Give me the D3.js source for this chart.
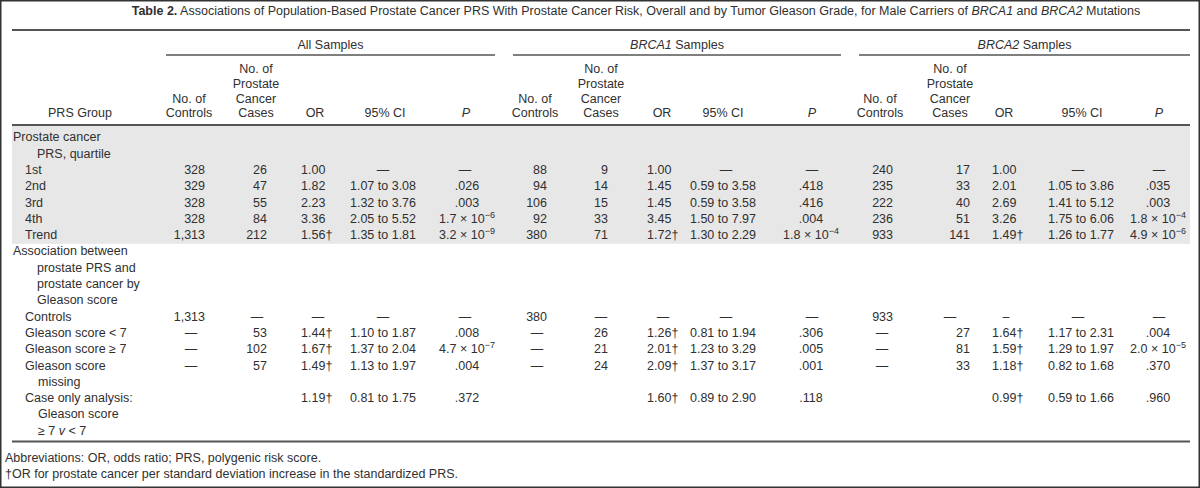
<!DOCTYPE html>
<html><head><meta charset="utf-8">
<script src="https://cdn.jsdelivr.net/npm/d3@7"></script>
<style>
html,body{margin:0;padding:0;background:#fff;}
svg{display:block;}
text{font-family:"Liberation Sans",Arial,Helvetica,sans-serif;fill:#303030;font-size:12.5px;}
</style></head><body>
<svg id="t" width="1200" height="488"></svg>
<script>
// ---------------- DATA ----------------
const stubRows = [
  {label:["Prostate cancer","PRS, quartile"], heading:true},
  {label:["1st"]},{label:["2nd"]},{label:["3rd"]},{label:["4th"]},{label:["Trend"]},
  {label:["Association between","prostate PRS and","prostate cancer by","Gleason score"], heading:true},
  {label:["Controls"]},{label:["Gleason score < 7"]},{label:["Gleason score \u2265 7"]},
  {label:["Gleason score","missing"]},
  {label:["Case only analysis:","Gleason score","\u2265 7 |v| < 7"]}
];
const groupNames = ["All Samples","|BRCA1| Samples","|BRCA2| Samples"];
const colHeaders = [["No. of","Controls"],["No. of","Prostate","Cancer","Cases"],["OR"],["95% CI"],["|P|"]];

const allControls = ["328","329","328","328","1,313","1,313","\u2014","\u2014","\u2014",""];
const allCases    = ["26","47","55","84","212","\u2014","53","102","57",""];
const allOR       = ["1.00","1.82","2.23","3.36","1.56\u2020","\u2014","1.44\u2020","1.67\u2020","1.49\u2020","1.19\u2020"];
const allCI       = ["\u2014","1.07 to 3.08","1.32 to 3.76","2.05 to 5.52","1.35 to 1.81","\u2014","1.10 to 1.87","1.37 to 2.04","1.13 to 1.97","0.81 to 1.75"];
const allP        = ["\u2014",".026",".003","1.7 \u00d7 10^\u22126","3.2 \u00d7 10^\u22129","\u2014",".008","4.7 \u00d7 10^\u22127",".004",".372"];

const brca1Controls = ["88","94","106","92","380","380","\u2014","\u2014","\u2014",""];
const brca1Cases    = ["9","14","15","33","71","\u2014","26","21","24",""];
const brca1OR       = ["1.00","1.45","1.45","3.45","1.72\u2020","\u2014","1.26\u2020","2.01\u2020","2.09\u2020","1.60\u2020"];
const brca1CI       = ["\u2014","0.59 to 3.58","0.59 to 3.58","1.50 to 7.97","1.30 to 2.29","\u2014","0.81 to 1.94","1.23 to 3.29","1.37 to 3.17","0.89 to 2.90"];
const brca1P        = ["\u2014",".418",".416",".004","1.8 \u00d7 10^\u22124","\u2014",".306",".005",".001",".118"];

const brca2Controls = ["240","235","222","236","933","933","\u2014","\u2014","\u2014",""];
const brca2Cases    = ["17","33","40","51","141","\u2014","27","81","33",""];
const brca2OR       = ["1.00","2.01","2.69","3.26","1.49\u2020","\u2013","1.64\u2020","1.59\u2020","1.18\u2020","0.99\u2020"];
const brca2CI       = ["\u2014","1.05 to 3.86","1.41 to 5.12","1.75 to 6.06","1.26 to 1.77","\u2014","1.17 to 2.31","1.29 to 1.97","0.82 to 1.68","0.59 to 1.66"];
const brca2P        = ["\u2014",".035",".003","1.8 \u00d7 10^\u22124","4.9 \u00d7 10^\u22126","\u2014",".004","2.0 \u00d7 10^\u22125",".370",".960"];

const titleText = " Associations of Population-Based Prostate Cancer PRS With Prostate Cancer Risk, Overall and by Tumor Gleason Grade, for Male Carriers of |BRCA1| and |BRCA2| Mutations";
const footnotes = ["Abbreviations: OR, odds ratio; PRS, polygenic risk score.",
                   "\u2020OR for prostate cancer per standard deviation increase in the standardized PRS."];

// ---------------- LAYOUT ----------------
const W = 1200, H = 488;
const svg = d3.select("#t");
const lineCol = "#555";
const groups = [
  {name:groupNames[0], span:[166,495], cols:[allControls,allCases,allOR,allCI,allP],
   hdr:[189,256,315,385,466], anchor:[{k:"right",x:205,d:191},{k:"right",x:267,d:257},{k:"dec",x:308,d:318},{k:"mid",x:383,d:383},{k:"mid",x:467,d:465}]},
  {name:groupNames[1], span:[513,841], cols:[brca1Controls,brca1Cases,brca1OR,brca1CI,brca1P],
   hdr:[535,601,662,723,812], anchor:[{k:"right",x:547,d:537},{k:"right",x:608,d:601},{k:"dec",x:654,d:663},{k:"mid",x:723,d:726},{k:"mid",x:811,d:812}]},
  {name:groupNames[2], span:[859,1190], cols:[brca2Controls,brca2Cases,brca2OR,brca2CI,brca2P],
   hdr:[880,950,1004,1082,1159], anchor:[{k:"right",x:893,d:882},{k:"right",x:970,d:950},{k:"dec",x:999,d:1006},{k:"mid",x:1081,d:1078},{k:"mid",x:1158,d:1159}]}
];

// rich text helper: segments between |...| are italic, ^ introduces a trailing superscript
function rich(sel, str){
  const parts = str.split("|");
  parts.forEach((p,i)=>{
    if(p==="") return;
    const sup = p.split("^");
    const t = sel.append("tspan").text(sup[0]);
    if(i%2===1) t.attr("font-style","italic");
    if(sup.length>1){
      sel.append("tspan").attr("dy",-5).attr("font-size","9px").text(sup[1]);
    }
  });
  return sel;
}

// border
svg.append("rect").attr("x",0.75).attr("y",0.75).attr("width",W-1.5).attr("height",H-1.5)
  .attr("fill","none").attr("stroke","#333").attr("stroke-width",1.5);

// title (fitted to its measured span in the reference)
const title = svg.append("text").attr("x",636).attr("y",11).attr("dy","0.35em").attr("text-anchor","middle").attr("font-size","12px");
title.append("tspan").attr("font-weight","bold").text("Table 2.");
rich(title, titleText);
const tw = title.node().getComputedTextLength();
title.attr("font-size", (12*954/tw).toFixed(2)+"px");

// lines
const hline = (y,x1,x2,w)=>svg.append("line").attr("x1",x1).attr("x2",x2).attr("y1",y).attr("y2",y).attr("stroke",lineCol).attr("stroke-width",w);
hline(30,12,1190,2);

// row scale
const nLines = d3.sum(stubRows,r=>r.label.length);
const yLine = d3.scaleLinear().domain([0,nLines-1]).range([137,137+(nLines-1)*16.3]);

// shaded band for quartile block
const bandLines = stubRows[0].label.length + 5;
svg.append("rect").attr("x",12).attr("width",1178).attr("y",126).attr("height",yLine(bandLines-1)+9-126).attr("fill","#e7e7e7");
hline(125,12,1190,2);

// group headers
groups.forEach(g=>{
  rich(svg.append("text").attr("x",(g.span[0]+g.span[1])/2).attr("y",45).attr("dy","0.35em").attr("text-anchor","middle"), g.name);
  hline(55,g.span[0],g.span[1],1.5);
});

// column headers
const yHdr = d3.scaleLinear().domain([0,3]).range([69,113]);
svg.append("text").attr("x",80).attr("y",yHdr(3)).attr("dy","0.35em").attr("text-anchor","middle").text("PRS Group");
groups.forEach(g=>{
  colHeaders.forEach((h,ci)=>{
    h.forEach((ln,li)=>{
      rich(svg.append("text").attr("x",g.hdr[ci]).attr("y",yHdr(4-h.length+li)).attr("dy","0.35em").attr("text-anchor","middle"), ln);
    });
  });
});

// stub + data
let li = 0, di = 0;
stubRows.forEach(r=>{
  r.label.forEach((ln,k)=>{
    const x = r.heading ? (k===0?13:37) : (k===0?25:38);
    rich(svg.append("text").attr("x",x).attr("y",yLine(li+k)).attr("dy","0.35em"), ln);
  });
  if(!r.heading){
    const y = yLine(li);
    groups.forEach(g=>{
      g.cols.forEach((arr,ci)=>{
        const v = arr[di]; if(!v) return;
        const a = g.anchor[ci];
        const t = svg.append("text").attr("y",y).attr("dy","0.35em");
        if(v==="\u2014"||v==="\u2013"){ t.attr("x",a.d).attr("text-anchor","middle").text(v); return; }
        if(a.k==="right"){ t.attr("x",a.x).attr("text-anchor","end").text(v); return; }
        if(a.k==="mid"){ rich(t.attr("x",a.x).attr("text-anchor","middle"), v); return; }
        // decimal alignment
        rich(t, v);
        const dot = v.indexOf(".");
        let off = 0;
        if(dot>0){
          const tmp = svg.append("text").text(v.slice(0,dot));
          off = tmp.node().getComputedTextLength(); tmp.remove();
        }
        t.attr("x",a.x-off);
      });
    });
    di++;
  }
  li += r.label.length;
});

// bottom rule and footnotes
const yBottom = yLine(nLines-1)+11;
hline(yBottom,12,1190,2);
footnotes.forEach((f,i)=>{
  svg.append("text").attr("x",5).attr("y",yBottom+16+i*16).attr("dy","0.35em").text(f);
});
</script></body></html>
